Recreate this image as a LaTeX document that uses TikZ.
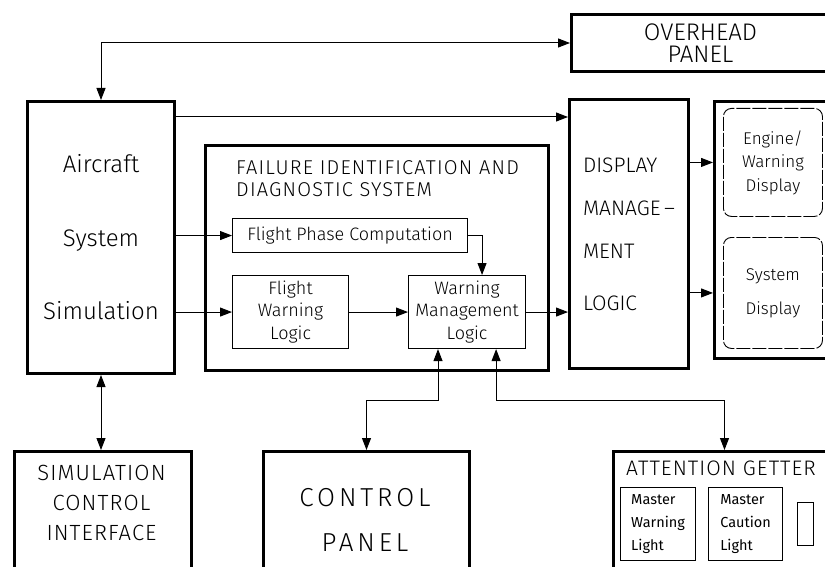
\documentclass[tikz,border=0pt]{standalone}
\usepackage{fontspec}
\setmainfont{Fira Sans}[UprightFont={* Light}]
\newfontfamily\lampfont{Fira Sans}
\usetikzlibrary{arrows.meta}
\usetikzlibrary{positioning}

\begin{document}
\begin{tikzpicture}[x=1pt,y=-1pt,
        >={Triangle[length=12pt,width=9pt]},
        heavy/.style={draw,line width=3pt,anchor=north west,align=center,inner sep=0pt},
        thin/.style={draw,line width=1.1pt,anchor=north west,align=center,inner sep=0pt},
        screen/.style={thin,line width=0.9pt,dash pattern=on 14pt off 2pt,rounded corners=8pt},
        wire/.style={line width=1pt},
        fs/.style 2 args={font=\fontsize{#1}{#2}\selectfont},
        spaced/.style n args={3}{font={\addfontfeatures{LetterSpace=#3}\fontsize{#1}{#2}\selectfont}}]
        \useasboundingbox (0,0) rectangle (825,567);

        % top row
        \node[heavy,minimum width=258pt,minimum height=57pt,fs={24}{22}] (overhead) at (570,13) {OVERHEAD\\PANEL};

        % simulation side
        \node[heavy,minimum width=147pt,minimum height=272pt,fs={24}{73.5}] (aircraft) at (26,100) {Aircraft\\System\\Simulation};

        % failure identification block
        \node[heavy,minimum width=343pt,minimum height=225pt] (fids) at (204,144) {};
        \node[anchor=north west,align=left,inner sep=0pt,spaced={20}{22}{6}] (fidstitle) at (236,160) {FAILURE IDENTIFICATION AND\\DIAGNOSTIC SYSTEM};
        \node[thin,minimum width=235pt,minimum height=34pt,fs={18}{22}] (fpc) at (232,218) {Flight Phase Computation};
        \node[thin,minimum width=116pt,minimum height=73pt,fs={18}{22.5}] (fwl) at (232,275) {Flight\\Warning\\Logic};
        \node[thin,minimum width=117pt,minimum height=73pt,fs={18}{22.5}] (wml) at (408,275) {Warning\\Management\\Logic};

        % display side
        \node[heavy,minimum width=119pt,minimum height=269pt,align=left,fs={21}{43}] (dml) at (568,98) {DISPLAY\\MANAGE\,--\\MENT\\[9pt]LOGIC};
        \node[heavy,minimum width=120pt,minimum height=257pt] (dunit) at (713,100) {};
        \node[screen,minimum width=99pt,minimum height=108pt,fs={17}{23.5}] (ewd) at (723,108) {Engine/\\Warning\\Display};
        \node[screen,minimum width=99pt,minimum height=111pt,fs={17}{34}] (sysd) at (723,237) {System\\Display};

        % bottom row
        \node[heavy,minimum width=177pt,minimum height=150pt] (sci) at (13,450) {};
        \node[align=center,inner sep=0pt,spaced={22}{30}{5}] (scitext) at (101.5,503) {SIMULATION\\CONTROL\\INTERFACE};
        \node[heavy,minimum width=206pt,minimum height=150pt] (cp) at (262,450) {};
        \node[align=center,inner sep=0pt,spaced={26}{45}{15}] (cptext) at (365,520) {CONTROL\\PANEL};
        \node[heavy,minimum width=222pt,minimum height=150pt] (ag) at (612,450) {};
        \node[anchor=west,inner sep=0pt,spaced={21}{24}{5}] (agtext) at (626,468) {ATTENTION GETTER};
        \begin{scope}[every node/.style={thin,minimum height=73pt,align=left,font=\lampfont\fontsize{14.5}{23}\selectfont}]
        \node[minimum width=75pt] (mwl) at (620,487) {Master\\Warning\\Light\phantom{g}};
        \node[minimum width=74pt] (mcl) at (708,487) {Master\\Caution\\Light\phantom{g}};
        \end{scope}
        \node[thin,minimum width=16pt,minimum height=43pt] (lamp) at (797,502) {};

        % connectors
        \coordinate (a1) at ([yshift=-17pt]aircraft.north east);
        \coordinate (f1) at ([xshift=15pt]wml.north);
        \coordinate (w1) at ([xshift=30pt]wml.south west);
        \coordinate (w2) at ([xshift=-30pt]wml.south east);
        \coordinate (split) at (0,400);
        \begin{scope}[every path/.style={wire}]
        \draw[<->] (aircraft.north) |- (overhead.west);
        \draw[->] (a1) -- (a1 -| dml.west);
        \draw[->] (aircraft.east |- fpc.west) -- (fpc.west);
        \draw[->] (aircraft.east |- fwl.west) -- (fwl.west);
        \draw[->] (fwl.east) -- (wml.west);
        \draw[->] (fpc.east) -| (f1);
        \draw[->] (wml.east) -- (wml.east -| dml.west);
        \draw[->] (dml.east |- ewd.west) -- (dunit.west |- ewd.west);
        \draw[->] (dml.east |- sysd.west) -- (dunit.west |- sysd.west);
        \draw[<->] (aircraft.south) -- (aircraft.south |- sci.north);
        \draw[<->] (w1) |- (split -| cp.north) -- (cp.north);
        \draw[<->] (w2) |- (split -| ag.north) -- (ag.north);
        \end{scope}
\end{tikzpicture}
\end{document}
